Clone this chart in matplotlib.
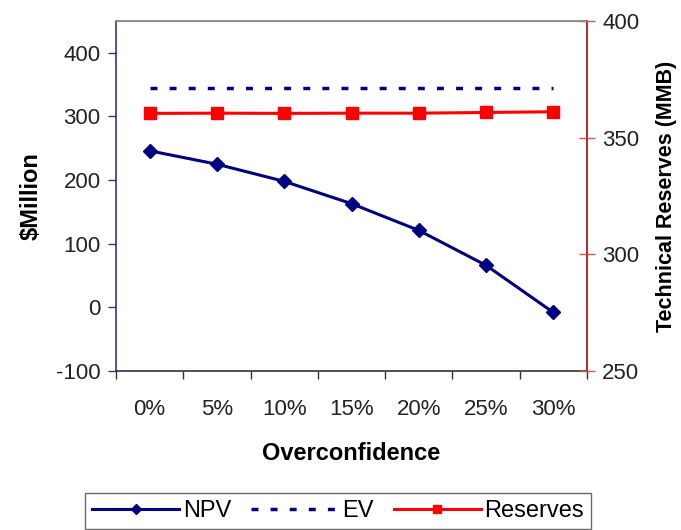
import matplotlib
matplotlib.use("Agg")
import matplotlib.pyplot as plt

categories = ["0%", "5%", "10%", "15%", "20%", "25%", "30%"]
npv = [246, 225, 198, 163, 121, 66, -8]
ev = [345, 345, 345, 345, 345, 345, 345]
reserves = [360.4, 360.5, 360.4, 360.5, 360.5, 360.8, 361.1]

plt.rcParams['font.family'] = ['Liberation Sans', 'DejaVu Sans']
plt.rcParams['axes.unicode_minus'] = False

fig = plt.figure(figsize=(6.81, 5.30), dpi=100)
ax = fig.add_axes([116/681, 1-371/530, (587-116)/681, (371-21)/530])
ax2 = ax.twinx()

x = list(range(len(categories)))
navy = "#000080"
red = "#FF0000"

l1, = ax.plot(x, npv, color=navy, lw=2.2, marker='D', ms=7, label="NPV")
l2, = ax.plot(x, ev, color=navy, lw=2.5, linestyle=(0, (2, 3.5)), label="EV")
l3, = ax2.plot(x, reserves, color=red, lw=2.2, marker='s', ms=8, label="Reserves")

ax.set_xlim(-0.5, len(categories) - 0.5)
ax.set_ylim(-100, 450)
ax.set_yticks([-100, 0, 100, 200, 300, 400])
ax2.set_ylim(250, 400)
ax2.set_yticks([250, 300, 350, 400])

ax.set_xticks([i - 0.5 for i in range(len(categories) + 1)], minor=False)
ax.set_xticklabels([])
ax.set_xticks(x, minor=True)
ax.set_xticklabels(categories, minor=True)
ax.tick_params(axis='x', which='major', length=6, width=1, color="#333333", direction='out')
ax.tick_params(axis='x', which='minor', length=0, labelsize=16, pad=20, labelcolor="#222222")
ax.tick_params(axis='y', length=6, width=1, color="#333388", direction='out', labelsize=16, labelcolor="#222222", pad=5)
ax2.tick_params(axis='y', length=12, width=1, color="#E05050", direction='inout', labelsize=16, labelcolor="#222222", pad=5)

ax.spines['left'].set_color("#333388")
ax.spines['bottom'].set_color("#333333")
ax.spines['top'].set_color("#888888")
ax2.spines['right'].set_color("#CC3333")
ax2.spines['left'].set_visible(False)
ax2.spines['top'].set_color("#888888")
ax2.spines['bottom'].set_visible(False)
for s in ax.spines.values():
    s.set_linewidth(1.2)
ax2.spines['right'].set_linewidth(1.2)

ax.set_ylabel("$Million", fontsize=17, fontweight='bold', labelpad=10)
ax2.set_ylabel("Technical Reserves (MMB)", fontsize=15.5, fontweight='bold', labelpad=12)
ax.set_xlabel("Overconfidence", fontsize=17, fontweight='bold', labelpad=16)

leg = fig.legend(handles=[l1, l2, l3], loc='upper center',
                 bbox_to_anchor=((86+590)/2/681, 1-493/530), ncol=3,
                 fontsize=17, frameon=True, fancybox=False, handlelength=3.7,
                 columnspacing=0.85, handletextpad=0.15, borderpad=0.3,
                 borderaxespad=0, markerscale=0.8)
leg.get_frame().set_edgecolor("#444444")
leg.get_frame().set_linewidth(1.0)

fig.savefig("out.png", dpi=100)
